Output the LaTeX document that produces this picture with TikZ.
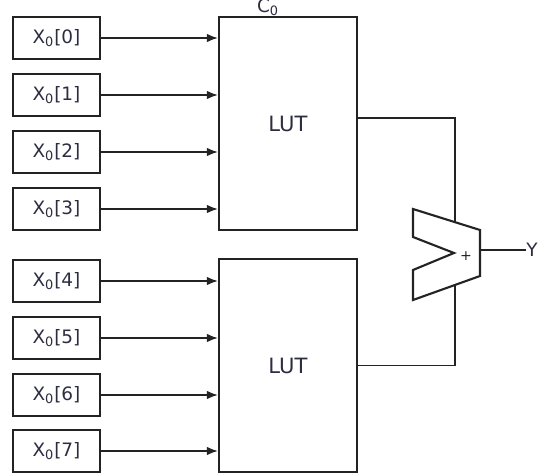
\documentclass[tikz,border=0pt]{standalone}
\usepackage{fontspec}
\setmainfont{DejaVu Sans}
\usetikzlibrary{arrows,arrows.meta,shapes}

\definecolor{wire}{RGB}{35,35,35}
\definecolor{txt}{RGB}{45,45,65}

\tikzset{
  inbox/.style={draw=wire, line width=1.2pt, minimum width=1.74cm, minimum height=0.84cm,
    inner sep=0pt, text=txt, font=\fontsize{10.5}{12}\selectfont},
  lutbox/.style={draw=wire, line width=1.2pt, minimum width=2.76cm, minimum height=4.26cm,
    inner sep=0pt, text=txt, font=\fontsize{12}{14}\selectfont},
  feed/.style={-{Latex[length=2.2mm,width=1.7mm]}, draw=wire, line width=0.9pt},
  wireline/.style={draw=wire, line width=1pt}
}

\begin{document}
\begin{tikzpicture}[x=0.02cm, y=-0.02cm]
\useasboundingbox (0,0) rectangle (538,476);

% the two lookup tables
\node[lutbox] (lut1) at (288,123.5) {LUT};
\node[lutbox] (lut2) at (288,365.5) {LUT};
\node[text=txt, font=\fontsize{10.5}{12}\selectfont, inner sep=0pt] (c0) at (268,7) {C\textsubscript{0}};

% inputs
\foreach \i/\y in {0/38,1/95,2/152,3/209}{
  \node[inbox] (x\i) at (56.5,\y) {X\textsubscript{0}[\i]};
  \draw[feed] (x\i.east) -- (x\i.east -| lut1.west);
}
\foreach \i/\y in {4/281,5/338,6/395,7/451}{
  \node[inbox] (x\i) at (56.5,\y) {X\textsubscript{0}[\i]};
  \draw[feed] (x\i.east) -- (x\i.east -| lut2.west);
}

% adder
\draw[wireline, line width=1.2pt, line join=miter]
  (413,209) -- (480,230) -- (480,276) -- (413,300) -- (413,270)
  -- (454,253) -- (413,237) -- cycle;
\node[text=wire, font=\fontsize{8}{9}\selectfont, inner sep=0pt] (plus) at (466,256) {+};
\coordinate (addtop) at (455,223);
\coordinate (addbot) at (455,285);
\coordinate (addout) at (480,250);
\coordinate (l1out) at (357,118);

\draw[wireline] (l1out) -| (addtop);
\draw[wireline] (lut2.east) -| (addbot);
\node[text=txt, font=\fontsize{10.5}{12}\selectfont, anchor=west, inner sep=0pt] (y) at (526,250) {Y};
\draw[wireline] (addout) -- (y.west);
\end{tikzpicture}
\end{document}
